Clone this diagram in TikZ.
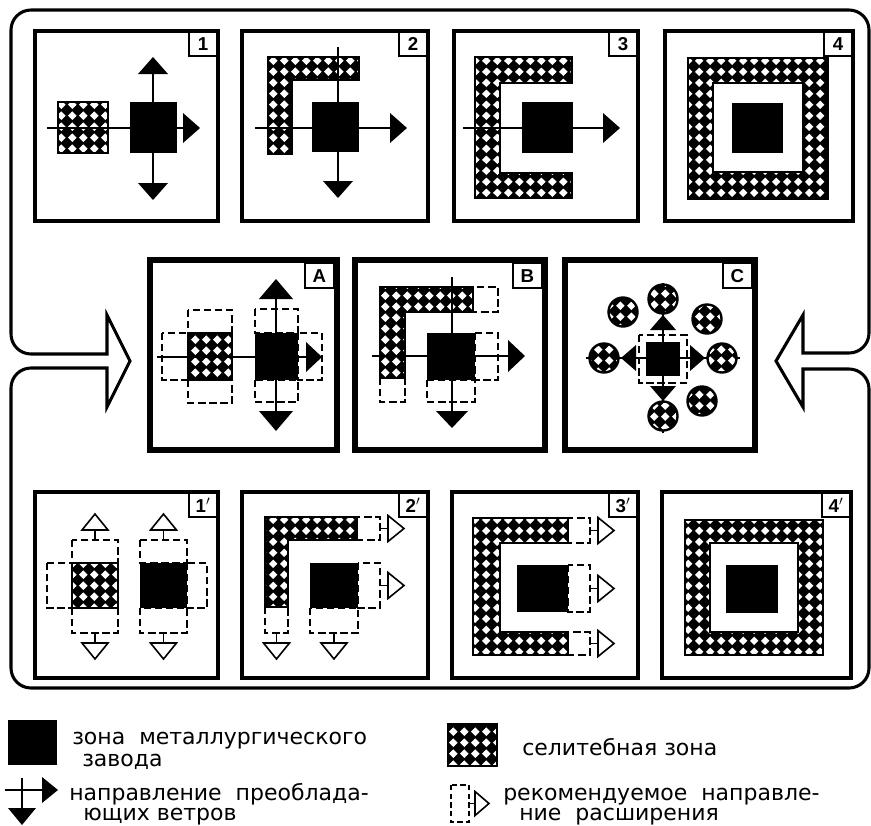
\documentclass[tikz,border=0pt]{standalone}
\usepackage{fontspec}
\setmainfont{DejaVu Sans}
\newfontfamily\lblfont{Liberation Sans}
\usetikzlibrary{patterns}
\pgfdeclarepatternformonly{wdia}{\pgfqpoint{0pt}{0pt}}{\pgfqpoint{8.4pt}{8.4pt}}{\pgfqpoint{8.4pt}{8.4pt}}{%
  \pgfpathmoveto{\pgfqpoint{4.2pt}{0.8pt}}%
  \pgfpathlineto{\pgfqpoint{7.6pt}{4.2pt}}%
  \pgfpathlineto{\pgfqpoint{4.2pt}{7.6pt}}%
  \pgfpathlineto{\pgfqpoint{0.8pt}{4.2pt}}%
  \pgfpathclose
  \pgfusepath{fill}%
}
\def\hl{17}\def\hw{15}
\newcommand\headR[3][fill=black]{\path[#1] (#2,#3) -- ++(-\hl,-\hw) -- ++(0,2*\hw) -- cycle;}
\newcommand\headL[3][fill=black]{\path[#1] (#2,#3) -- ++(\hl,-\hw) -- ++(0,2*\hw) -- cycle;}
\newcommand\headU[3][fill=black]{\path[#1] (#2,#3) -- ++(-\hw,\hl) -- ++(2*\hw,0) -- cycle;}
\newcommand\headD[3][fill=black]{\path[#1] (#2,#3) -- ++(-\hw,-\hl) -- ++(2*\hw,0) -- cycle;}
\tikzset{
  frm/.style={line width=2.3pt, line join=miter},
  pnl/.style={draw, line width=2.8pt},
  pnlm/.style={draw, line width=4.6pt},
  lbl/.style={draw, fill=white, line width=1.4pt, inner sep=0pt, minimum width=21pt, minimum height=18pt, font=\lblfont\fontsize{14}{14}\selectfont\bfseries},
  wind/.style={line width=1.8pt},
  dbox/.style={draw, line width=1.5pt, dash pattern=on 5.5pt off 2.8pt},
  hz/.style={preaction={fill=black}, pattern=wdia, pattern color=white, draw, line width=1.3pt},
  hol/.style={draw, fill=white, line width=1.2pt, line join=miter},
  lgd/.style={inner sep=0pt, font=\fontsize{16.5}{18}\selectfont},
}
\begin{document}
\begin{tikzpicture}[x=0.75pt,y=-0.75pt]
\useasboundingbox (0,0) rectangle (871,825);
\fill[white] (0,0) rectangle (871,825);
% outer frame with the two hollow arrows
\draw[frm] (107,354) -- (31,354) arc[start angle=90,end angle=180,radius=20]
  -- (11,30) arc[start angle=180,end angle=270,radius=20]
  -- (849,10) arc[start angle=270,end angle=360,radius=20]
  -- (869,333) arc[start angle=0,end angle=90,radius=20]
  -- (803,353) -- (803,315) -- (776,361) -- (803,407) -- (803,369)
  -- (849,369) arc[start angle=270,end angle=360,radius=20]
  -- (869,668) arc[start angle=0,end angle=90,radius=20]
  -- (31,688) arc[start angle=90,end angle=180,radius=20]
  -- (11,388) arc[start angle=180,end angle=270,radius=20]
  -- (107,368) -- (107,407) -- (130,361) -- (107,315) -- cycle;

% ---------- top row ----------
% panel 1
\path[hz] (58,102) rectangle (108,153);
\fill (130,102) rectangle (177,153);
\draw[wind] (47,128) -- (185,128);
\draw[wind] (153,72) -- (153,186);
\headR{200}{128}\headU{153}{57}\headD{153}{200}
\draw[pnl] (35,31) rectangle (218,221);
\node[lbl, anchor=north east] (n1) at (218,31) {1};
% panel 2
\path[hz] (268,57) -- (359,57) -- (359,80) -- (292,80) -- (292,154) -- (268,154) -- cycle;
\fill (312,102) rectangle (359,152);
\draw[wind] (338,47) -- (338,185);
\draw[wind] (255,128) -- (393,128);
\headR{407}{128}\headD{338}{198}
\draw[pnl] (242,31) rectangle (428,221);
\node[lbl, anchor=north east] (n2) at (428,31) {2};
% panel 3
\path[hz] (475,57) -- (572,57) -- (572,83) -- (500,83) -- (500,173) -- (572,173) -- (572,198) -- (475,198) -- cycle;
\fill (522,102) rectangle (573,153);
\draw[wind] (463,128) -- (606,128);
\headR{620}{128}
\draw[pnl] (454,31) rectangle (638,221);
\node[lbl, anchor=north east] (n3) at (638,31) {3};
% panel 4
\path[hz] (688,58) -- (828,58) -- (828,199) -- (688,199) -- cycle
          (713,83) -- (713,172) -- (803,172) -- (803,83) -- cycle;
\fill (732,103) rectangle (783,153);
\draw[pnl] (665,31) rectangle (853,221);
\node[lbl, anchor=north east] (n4) at (853,31) {4};

% ---------- middle row ----------
% panel A
\path[hz] (188,333) rectangle (232,380);
\draw[dbox] (188,310) rectangle (232,333);
\draw[dbox] (188,380) rectangle (232,403);
\draw[dbox] (162,333) rectangle (188,380);
\fill (255,333) rectangle (298,380);
\draw[dbox] (255,309) rectangle (298,333);
\draw[dbox] (255,380) rectangle (298,402);
\draw[dbox] (298,333) rectangle (322,380);
\draw[wind] (157,357) -- (308,357);
\draw[wind] (276,298) -- (276,414);
{\def\hl{16}\headR{322}{357}}
{\def\hl{20}\def\hw{17}\headU{276}{279}\headD{276}{431}}
\draw[pnlm] (150,260) rectangle (337,450);
\node[lbl, anchor=north east, minimum width=22pt, minimum height=19pt] (nA) at (335,262) {A};
% panel B
\path[hz] (380,287) -- (473,287) -- (473,312) -- (405,312) -- (405,378) -- (380,378) -- cycle;
\draw[dbox] (473,287) rectangle (498,312);
\draw[dbox] (380,378) rectangle (405,402);
\fill (427,333) rectangle (475,380);
\draw[dbox] (475,333) rectangle (498,380);
\draw[dbox] (427,380) rectangle (475,402);
\draw[wind] (452,277) -- (452,413);
\draw[wind] (372,356) -- (510,356);
{\def\hw{16}\headR{525}{356}\headD{452}{428}}
\draw[pnlm] (355,260) rectangle (545,450);
\node[lbl, anchor=north east, minimum width=22pt, minimum height=19pt] (nB) at (543,262) {B};
% panel C
\draw[wind] (586,358) -- (740,358);
\draw[wind] (663,283) -- (663,433);
\fill (646,342) rectangle (680,376);
\draw[dbox] (639,335) rectangle (687,383);
{\def\hl{15}\def\hw{13}\headU{663}{315}\headD{663}{401}\headL{621}{358}\headR{705}{358}}
\foreach \cx/\cy in {663/299,604/358,722/358,663/416,623/312,707/319,702/401}
  \path[hz, line width=1.8pt] (\cx,\cy) circle[radius=14.5];
\draw[pnlm] (565,260) rectangle (755,450);
\node[lbl, anchor=north east, minimum width=22pt, minimum height=19pt] (nC) at (753,262) {C};

% ---------- bottom row ----------
\def\hl{16}\def\hw{13}
% panel 1'
\path[hz] (72,563) rectangle (118,608);
\draw[dbox] (72,540) rectangle (118,563);
\draw[dbox] (72,608) rectangle (118,633);
\draw[dbox] (47,563) rectangle (72,608);
\draw[hol] (95,540) -- (95,530); \headU[hol]{95}{514}
\draw[hol] (95,633) -- (95,643); \headD[hol]{95}{659}
\fill (140,563) rectangle (187,608);
\draw[dbox] (140,540) rectangle (187,563);
\draw[dbox] (140,608) rectangle (187,633);
\draw[dbox] (187,563) rectangle (207,608);
\draw[hol] (163.5,540) -- (163.5,530); \headU[hol]{163.5}{514}
\draw[hol] (163.5,633) -- (163.5,643); \headD[hol]{163.5}{659}
\draw[pnl] (35,492) rectangle (218,678);
\node[lbl, anchor=north east] (n1p) at (218,492) {1$'$};
% panel 2'
\path[hz] (265,517) -- (357,517) -- (357,540) -- (288,540) -- (288,607) -- (265,607) -- cycle;
\draw[dbox] (357,517) rectangle (380,540);
\draw[hol] (380,528.5) -- (388,528.5); \headR[hol]{404}{528.5}
\draw[dbox] (265,607) rectangle (288,633);
\draw[hol] (276.5,633) -- (276.5,643); \headD[hol]{276.5}{659}
\fill (310,563) rectangle (358,608);
\draw[dbox] (358,563) rectangle (380,608);
\draw[hol] (380,585.5) -- (388,585.5); \headR[hol]{404}{585.5}
\draw[dbox] (310,608) rectangle (358,633);
\draw[hol] (334,633) -- (334,643); \headD[hol]{334}{659}
\draw[pnl] (242,492) rectangle (428,678);
\node[lbl, anchor=north east] (n2p) at (428,492) {2$'$};
% panel 3'
\path[hz] (473,518) -- (568,518) -- (568,543) -- (500,543) -- (500,632) -- (568,632) -- (568,655) -- (473,655) -- cycle;
\draw[dbox] (568,518) rectangle (590,543);
\draw[hol] (590,530.5) -- (598,530.5); \headR[hol]{614}{530.5}
\fill (517,565) rectangle (568,612);
\draw[dbox] (568,565) rectangle (590,612);
\draw[hol] (590,588.5) -- (598,588.5); \headR[hol]{614}{588.5}
\draw[dbox] (568,632) rectangle (590,655);
\draw[hol] (590,643.5) -- (598,643.5); \headR[hol]{614}{643.5}
\draw[pnl] (452,492) rectangle (638,678);
\node[lbl, anchor=north east] (n3p) at (638,492) {3$'$};
% panel 4'
\path[hz] (685,520) -- (823,520) -- (823,655) -- (685,655) -- cycle
          (710,543) -- (710,632) -- (798,632) -- (798,543) -- cycle;
\fill (726,565) rectangle (778,613);
\draw[pnl] (662,492) rectangle (851,678);
\node[lbl, anchor=north east] (n4p) at (851,492) {4$'$};

% ---------- legend ----------
\fill (8,720) rectangle (57,765);
\node[lgd, anchor=base west] (t1) at (72,744) {зона\ \ металлургического};
\node[lgd, anchor=base west] (t2) at (82,766) {завода};
\path[hz] (448,724) rectangle (497,766);
\node[lgd, anchor=base west] (t3) at (522,755) {селитебная зона};
\draw[wind] (5,790) -- (43,790);
\draw[wind] (22,778) -- (22,809);
{\def\hl{16}\def\hw{13}\headR{58}{790}}
{\def\hl{17}\def\hw{14}\headD{22}{825}}
\node[lgd, anchor=base west] (t4) at (69,800) {направление\ \ преоблада-};
\node[lgd, anchor=base west] (t5) at (83,820) {ющих ветров};
\draw[dbox, line width=1.2pt, dash pattern=on 4pt off 2.5pt] (451,785) rectangle (469,822);
\draw[hol] (469,803.5) -- (475,803.5);
{\def\hl{14}\def\hw{12}\headR[hol]{489}{803.5}}
\node[lgd, anchor=base west] (t6) at (503,800) {рекомендуемое\ \ направле-};
\node[lgd, anchor=base west] (t7) at (519,820) {ние\ \ расширения};
\end{tikzpicture}
\end{document}
